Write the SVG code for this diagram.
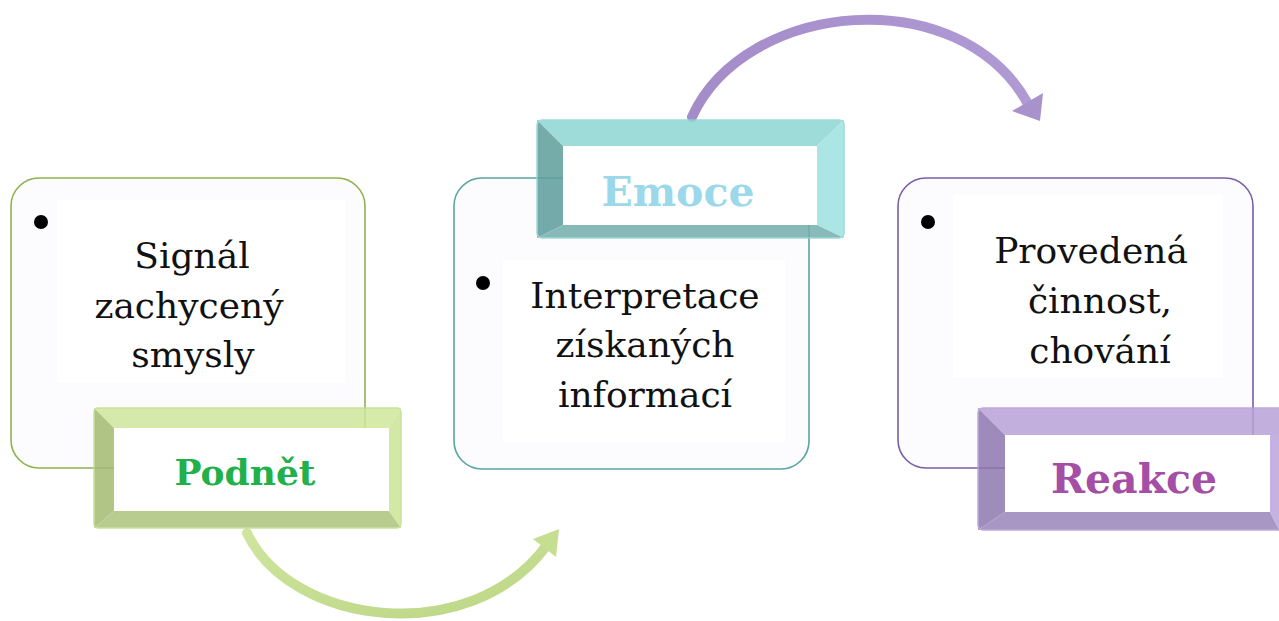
<svg xmlns="http://www.w3.org/2000/svg" width="1279" height="621" viewBox="0 0 1279 621">
<defs>
<style>
.box{fill:#fcfcfe;stroke-width:1.6}
.inner{fill:#ffffff}
.txt{font-family:"DejaVu Serif","Liberation Serif",serif;font-size:36px;fill:#111;text-anchor:middle}
.lbl{font-family:"DejaVu Serif","Liberation Serif",serif;font-weight:bold;text-anchor:middle}
.bullet{fill:#000}
.tabin{fill:#fff}
</style>
<linearGradient id="gG" x1="0" y1="0" x2="1" y2="1"><stop offset="0" stop-color="#cfe59e"/><stop offset="1" stop-color="#bcd685"/></linearGradient>
<linearGradient id="gP" x1="0" y1="0" x2="1" y2="0"><stop offset="0" stop-color="#a48cc8"/><stop offset="1" stop-color="#b09ad4"/></linearGradient>
</defs>

<g id="connectors">
<path d="M247,533 C290,625 470,650 547,545" fill="none" stroke="url(#gG)" stroke-width="10" stroke-linecap="round"/>
<polygon points="559,529 533,539 556,557" fill="#c6de90"/>
<path d="M692,117 C745,0 960,-20 1028,104" fill="none" stroke="url(#gP)" stroke-width="10" stroke-linecap="round"/>
<polygon points="1012,111 1043,93 1040,121" fill="#a892cc"/>
</g>

<g id="node-signal">
<rect class="box" x="11" y="178" width="354" height="290" rx="28" stroke="#8fb14e"/>
<rect class="inner" x="57" y="200" width="288" height="183"/>
<circle class="bullet" cx="41" cy="222" r="7"/>
<text class="txt" x="192" y="268">Signál</text>
<text class="txt" x="189" y="318">zachycený</text>
<text class="txt" x="193" y="367">smysly</text>
</g>

<g id="node-podnet">
<g opacity="0.85">
<polygon points="94,408 401,408 389,428 114,428" fill="#cfe79c"/>
<polygon points="401,408 401,528 389,511 389,428" fill="#cbe596"/>
<polygon points="94,408 114,428 114,511 94,528" fill="#a3bb72"/>
<polygon points="94,528 114,511 389,511 401,528" fill="#adc47d"/>
<rect x="94" y="408" width="307" height="120" rx="4" fill="none" stroke="#c3dc8c" stroke-width="1.5"/>
</g>
<rect class="tabin" x="114" y="428" width="275" height="83"/>
<text class="lbl" x="245" y="485" font-size="36" fill="#22b04b">Podnět</text>
</g>

<g id="node-interpretace">
<rect class="box" x="454" y="178" width="355" height="291" rx="28" stroke="#5aa3a3"/>
<rect class="inner" x="503" y="260" width="282" height="183"/>
<circle class="bullet" cx="483" cy="283" r="7"/>
<text class="txt" x="645" y="308">Interpretace</text>
<text class="txt" x="645" y="357">získaných</text>
<text class="txt" x="645" y="407">informací</text>
</g>

<g id="node-emoce">
<g opacity="0.85">
<polygon points="537,120 844,120 817,146 563,146" fill="#8ed6d4"/>
<polygon points="844,120 844,238 817,225 817,146" fill="#9de2e0"/>
<polygon points="537,120 563,146 563,225 537,238" fill="#5d9e9c"/>
<polygon points="537,238 563,225 817,225 844,238" fill="#73aeac"/>
<rect x="537" y="120" width="307" height="118" rx="5" fill="none" stroke="#8fd4d2" stroke-width="1.5"/>
</g>
<rect class="tabin" x="563" y="146" width="254" height="79"/>
<text class="lbl" x="678" y="206" font-size="41" fill="#9bd8ea">Emoce</text>
</g>

<g id="node-provedena">
<rect class="box" x="898" y="178" width="355" height="290" rx="28" stroke="#7a5ea6"/>
<rect class="inner" x="953" y="195" width="270" height="182"/>
<circle class="bullet" cx="928" cy="222" r="7"/>
<text class="txt" x="1091" y="263">Provedená</text>
<text class="txt" x="1100" y="313">činnost,</text>
<text class="txt" x="1100" y="363">chování</text>
</g>

<g id="node-reakce">
<g opacity="0.85">
<polygon points="978,408 1279,408 1279,435 1005,435" fill="#b8a2d8"/>
<polygon points="1279,435 1279,530 1270,512 1270,435" fill="#bca5dd"/>
<polygon points="978,408 1005,435 1005,512 978,530" fill="#8e78b0"/>
<polygon points="978,530 1005,512 1270,512 1279,530" fill="#9a84ba"/>
<rect x="978" y="408" width="310" height="122" rx="5" fill="none" stroke="#b39cd6" stroke-width="1.5"/>
</g>
<rect class="tabin" x="1005" y="435" width="265" height="77"/>
<text class="lbl" x="1134" y="493" font-size="41" fill="#a44ea6">Reakce</text>
</g>
</svg>
